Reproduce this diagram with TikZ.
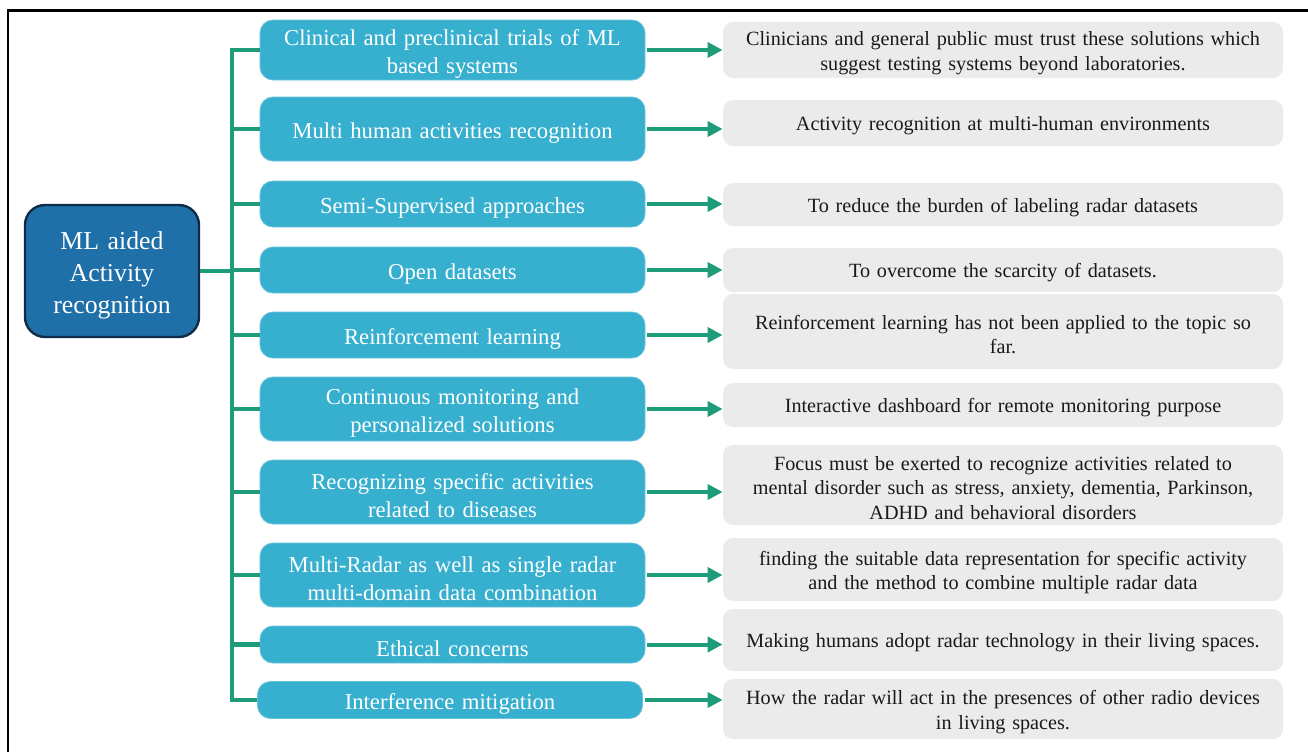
\documentclass[tikz,border=0pt]{standalone}
\usepackage{fontspec}
\setmainfont{Liberation Serif}
\usetikzlibrary{arrows.meta}

\definecolor{rootblue}{RGB}{31,111,168}
\definecolor{rootedge}{RGB}{14,44,72}
\definecolor{topiccyan}{RGB}{55,175,207}
\definecolor{notegrey}{RGB}{235,235,235}
\definecolor{linkgreen}{RGB}{30,155,120}

\tikzset{
    rootbox/.style={rectangle, rounded corners=10pt, fill=rootblue, draw=rootedge,
        line width=1.2pt, text=white, align=center, minimum width=87pt,
        minimum height=66pt, text width=82pt, inner sep=0pt, text height=12.9pt,
        font=\fontsize{12.9}{16}\selectfont},
    topicbox/.style={rectangle, rounded corners=6.5pt, fill=topiccyan,
        draw=topiccyan!75!white, line width=0.4pt, text=white, align=center,
        minimum width=192.5pt, text width=185pt, inner sep=0pt, text height=11.8pt,
        font=\fontsize{11.35}{14}\selectfont},
    notebox/.style={rectangle, rounded corners=5pt, fill=notegrey, text=black!90,
        align=center, minimum width=280pt, text width=272pt, inner sep=0pt,
        text height=10pt, font=\fontsize{10.1}{12.3}\selectfont},
    link/.style={draw=linkgreen, line width=2.2pt},
    linkarrow/.style={link, line width=2pt, shorten <=1pt,
        -{Triangle[length=7.5pt, width=7.5pt]}}
}

\begin{document}
\begin{tikzpicture}[x=0.5pt, y=-0.5pt]
    \def\trunkx{232}
    \useasboundingbox (0,0) rectangle (1308,751);
    \draw[line width=1.3pt] (8,10.5) rectangle (1340,780);

    % centre
    \node[rootbox] (root) at (112,271) {ML aided\\Activity\\recognition};

    % research directions
    \node[topicbox, minimum height=30pt] (l1) at (452.5,50) {Clinical and preclinical trials of ML\\based systems};
    \node[topicbox, minimum height=32pt] (l2) at (452.5,129) {Multi human activities recognition};
    \node[topicbox, minimum height=23pt] (l3) at (452.5,204) {Semi-Supervised approaches};
    \node[topicbox, minimum height=23pt] (l4) at (452.5,270) {Open datasets};
    \node[topicbox, minimum height=23pt] (l5) at (452.5,335) {Reinforcement learning};
    \node[topicbox, minimum height=32pt] (l6) at (452.5,409) {Continuous monitoring and\\personalized solutions};
    \node[topicbox, minimum height=32pt] (l7) at (452.5,492) {Recognizing specific activities\\related to diseases};
    \node[topicbox, minimum height=32pt] (l8) at (452.5,575) {Multi-Radar as well as single radar\\multi-domain data combination};
    \node[topicbox, minimum height=18.5pt] (l9) at (452.5,644.5) {Ethical concerns};
    \node[topicbox, minimum height=18.5pt] (l10) at (450,700) {Interference mitigation};

    % notes
    \node[notebox, minimum height=28pt] (r1) at (1003,50) {Clinicians and general public must trust these solutions which\\suggest testing systems beyond laboratories.};
    \node[notebox, minimum height=23pt] (r2) at (1003,123) {Activity recognition at multi-human environments};
    \node[notebox, minimum height=21.5pt] (r3) at (1003,204.5) {To reduce the burden of labeling radar datasets};
    \node[notebox, minimum height=22pt] (r4) at (1003,270) {To overcome the scarcity of datasets.};
    \node[notebox, minimum height=37.5pt] (r5) at (1003,331.5) {Reinforcement learning has not been applied to the topic so\\far.};
    \node[notebox, minimum height=22pt] (r6) at (1003,405) {Interactive dashboard for remote monitoring purpose};
    \node[notebox, minimum height=40pt] (r7) at (1003,485) {Focus must be exerted to recognize activities related to\\mental disorder such as stress, anxiety, dementia, Parkinson,\\ADHD and behavioral disorders};
    \node[notebox, minimum height=31.5pt] (r8) at (1003,569.5) {finding the suitable data representation for specific activity\\and the method to combine multiple radar data};
    \node[notebox, minimum height=31pt] (r9) at (1003,640) {Making humans adopt radar technology in their living spaces.};
    \node[notebox, minimum height=30pt] (r10) at (1003,709) {How the radar will act in the presences of other radio devices\\in living spaces.};

    % tree
    \coordinate (trunk) at (\trunkx,0);
    \draw[link] (l1.west) -- (trunk |- l1.west) -- (trunk |- l10.west) -- (l10.west);
    \draw[link] (root.east) -- (trunk |- root.east);
    \foreach \i in {2,...,9}
        \draw[link] (trunk |- l\i.west) -- (l\i.west);

    \foreach \i in {1,...,10}
        \draw[linkarrow] (l\i.east) -- (l\i.east -| r\i.west);
\end{tikzpicture}
\end{document}
